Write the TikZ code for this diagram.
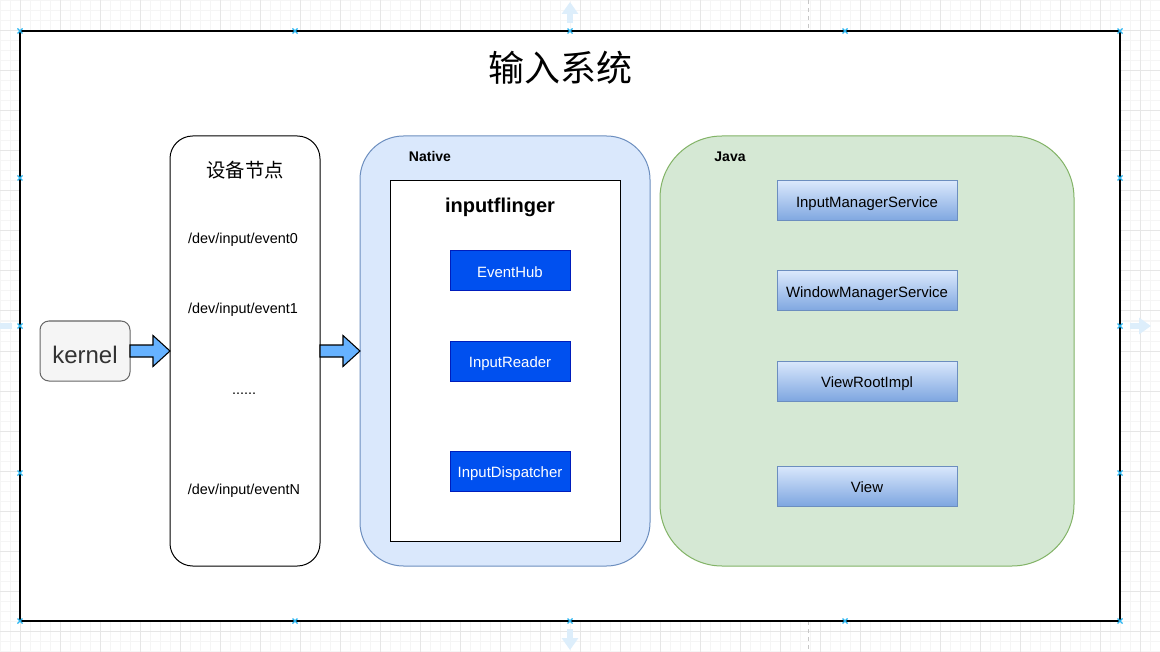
\documentclass[tikz,border=0pt]{standalone}
\usepackage{fontspec}
\setmainfont{Liberation Sans}
\newfontfamily\cjk{Noto Sans CJK SC}
\usetikzlibrary{calc,arrows.meta}
\definecolor{gridminor}{HTML}{F5F5F5}
\definecolor{gridmajor}{HTML}{E6E6E6}
\definecolor{nativefill}{HTML}{DAE8FC}
\definecolor{nativedraw}{HTML}{6C8EBF}
\definecolor{javafill}{HTML}{D5E8D4}
\definecolor{javadraw}{HTML}{82B366}
\definecolor{bluefill}{HTML}{0050EF}
\definecolor{bluedraw}{HTML}{001DBC}
\definecolor{gradtop}{HTML}{DAE8FC}
\definecolor{gradbot}{HTML}{7EA6E0}
\definecolor{kernfill}{HTML}{F5F5F5}
\definecolor{kerndraw}{HTML}{666666}
\definecolor{kerntext}{HTML}{333333}
\definecolor{arrowfill}{HTML}{66B2FF}
\definecolor{handle}{HTML}{29B6F2}
\definecolor{ghost}{HTML}{DDEEFB}
\tikzset{
  box/.style={inner sep=0pt, outer sep=0pt},
  bluebox/.style={box, draw=bluedraw, fill=bluefill, line width=0.75pt, minimum width=90pt, minimum height=30pt, text=white, font=\fontsize{11.2}{13}\selectfont, text height=9.8pt, text depth=0pt},
  gradbox/.style={box, draw=nativedraw, top color=gradtop, bottom color=gradbot, line width=0.75pt, minimum width=135pt, minimum height=30pt, text=black, font=\fontsize{11.2}{13}\selectfont, text height=9.6pt, text depth=0pt},
  devlabel/.style={font=\fontsize{10.8}{12}\selectfont, inner sep=0pt, anchor=base},
  grplabel/.style={font=\bfseries\fontsize{10.5}{12}\selectfont, inner sep=0pt, anchor=base},
  barrow/.style={draw=black, fill=arrowfill, line width=0.8pt, line join=miter},
  handlemark/.style={draw=handle, line width=0.9pt},
  ghostarrow/.style={draw=ghost, line width=4.5pt, -{Triangle[length=9pt,width=12pt]}},
  ghostline/.style={draw=ghost, line width=4.5pt}
}
\newcommand{\blockarrow}[2]{%
  \draw[barrow] ($(#1)+(0,-6)$) -- ($(#2)+(-17,-6)$) -- ($(#2)+(-17,-15.5)$) -- (#2)
     -- ($(#2)+(-17,15.5)$) -- ($(#2)+(-17,6)$) -- ($(#1)+(0,6)$) -- cycle;}
\newcommand{\hmark}[1]{%
  \draw[handlemark] ($(#1)+(-2.5,-2.5)$) -- ($(#1)+(2.5,2.5)$);
  \draw[handlemark] ($(#1)+(-2.5,2.5)$) -- ($(#1)+(2.5,-2.5)$);}
\begin{document}
\begin{tikzpicture}[x=0.75pt,y=-0.75pt]
\useasboundingbox (0,0) rectangle (1160,652);
\clip (0,0) rectangle (1160,652);
% canvas grid
\fill[white] (0,0) rectangle (1160,652);
\foreach \i in {0,10,...,1160} \draw[gridminor, line width=0.75pt] (\i,0) -- (\i,652);
\foreach \j in {1,11,...,651} \draw[gridminor, line width=0.75pt] (0,\j) -- (1160,\j);
\foreach \i in {20,60,...,1160} \draw[gridmajor, line width=0.75pt] (\i,0) -- (\i,652);
\foreach \j in {31,71,...,651} \draw[gridmajor, line width=0.75pt] (0,\j) -- (1160,\j);
\draw[gray!45, dashed, line width=0.75pt] (808,0) -- (808,31);
\draw[gray!45, dashed, line width=0.75pt] (808,621) -- (808,652);
% ghost arrows
\draw[ghostarrow] (570,23) -- (570,2);
\draw[ghostarrow] (570,629) -- (570,650);
\draw[ghostarrow] (1130,326) -- (1151,326);
\draw[ghostline] (0,326) -- (12,326);
% frame
\node[box, draw=black, fill=white, line width=1.1pt, minimum width=825pt, minimum height=442.5pt] (frame) at (570,326) {};
\node[inner sep=0pt, font=\cjk\fontsize{27}{30}\selectfont] (title) at (560,68) {输入系统};
% kernel
\node[box, draw=kerndraw, fill=kernfill, line width=0.75pt, rounded corners=6.75pt, minimum width=67.5pt, minimum height=45pt, text=kerntext, font=\fontsize{18}{20}\selectfont, text height=19pt, text depth=0pt] (kernel) at (85,351) {kernel};
% device nodes
\node[box, draw=black, fill=white, line width=0.75pt, rounded corners=17pt, minimum width=112.5pt, minimum height=322.5pt] (device) at (245,351) {};
\node[inner sep=0pt, font=\cjk\fontsize{14.5}{16}\selectfont] (devtitle) at (245,170) {设备节点};
\node[devlabel] (ev0) at (243,244) {/dev/input/event0};
\node[devlabel] (ev1) at (243,314) {/dev/input/event1};
\node[devlabel] (evdots) at (244,394) {......};
\node[devlabel] (evN) at (244,494) {/dev/input/eventN};
% native
\node[box, draw=nativedraw, fill=nativefill, line width=0.75pt, rounded corners=32.6pt, minimum width=217.5pt, minimum height=322.5pt] (native) at (505,351) {};
\node[grplabel] (nativelabel) at (430,161.5) {Native};
\node[box, draw=black, fill=white, line width=0.75pt, minimum width=172.5pt, minimum height=270pt] (flinger) at (505,361) {};
\node[inner sep=0pt, font=\bfseries\fontsize{15}{17}\selectfont, anchor=base] (flingerlabel) at (500,213) {inputflinger};
\node[bluebox] (eventhub) at (510,271) {EventHub};
\node[bluebox] (reader) at (510,361) {InputReader};
\node[bluebox] (dispatcher) at (510,471) {InputDispatcher};
% java
\node[box, draw=javadraw, fill=javafill, line width=0.75pt, rounded corners=46.5pt, minimum width=310.5pt, minimum height=322.5pt] (java) at (867,351) {};
\node[grplabel] (javalabel) at (730,161.5) {Java};
\node[gradbox] (ims) at (867,201) {InputManagerService};
\node[gradbox] (wms) at (867,291) {WindowManagerService};
\node[gradbox] (vri) at (867,381) {ViewRootImpl};
\node[gradbox] (view) at (867,486) {View};
% block arrows
\blockarrow{kernel.east}{device.west}
\blockarrow{device.east}{native.west}
% selection handles
\foreach \hx/\hy in {20/31,295/31,570/31,845/31,1120/31,20/621,295/621,570/621,845/621,1120/621,20/178,20/326,20/473,1120/178,1120/326,1120/473} {
  \coordinate (h) at (\hx,\hy);
  \hmark{h}
}
\end{tikzpicture}
\end{document}
